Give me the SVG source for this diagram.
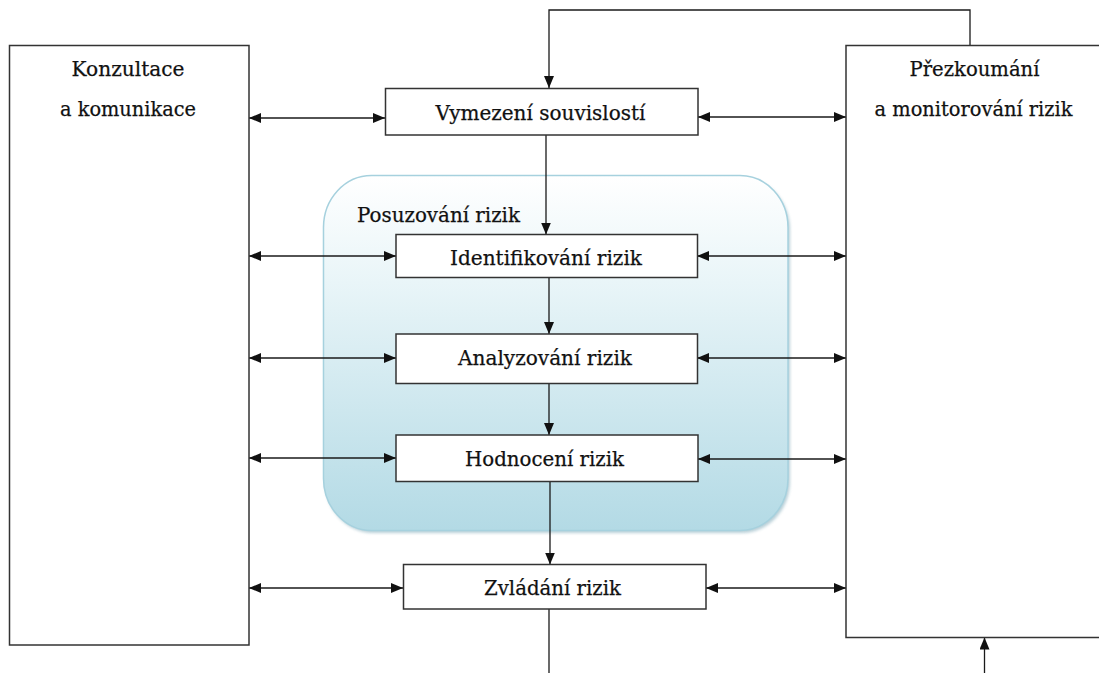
<svg xmlns="http://www.w3.org/2000/svg" width="1099" height="673" viewBox="0 0 1099 673">
  <defs>
    <linearGradient id="blueGrad" x1="0" y1="0" x2="0" y2="1">
      <stop offset="0" stop-color="#ffffff"/>
      <stop offset="0.3" stop-color="#e9f5f8"/>
      <stop offset="1" stop-color="#b3dae5"/>
    </linearGradient>
    <filter id="soft" x="-5%" y="-5%" width="110%" height="110%">
      <feGaussianBlur stdDeviation="1.5"/>
    </filter>
    <marker id="arr" viewBox="0 0 12 10" refX="12" refY="5" markerWidth="12" markerHeight="10" markerUnits="userSpaceOnUse" orient="auto-start-reverse">
      <path d="M0,0 L12,5 L0,10 Z" fill="#111"/>
    </marker>
  </defs>
  <style>
    .box { fill: #ffffff; stroke: #333333; stroke-width: 1.5; }
    .edge { fill: none; stroke: #333333; stroke-width: 1.5; }
    .lbl { font-size: 21px; fill: #111111; stroke: #111111; stroke-width: 0.25; }
    .mid { text-anchor: middle; }
    .con { fill: none; stroke: #1a1a1a; stroke-width: 1.3; }
    .dbl { marker-start: url(#arr); marker-end: url(#arr); }
    .one { marker-end: url(#arr); }
  </style>
  <rect width="1099" height="673" fill="#ffffff"/>

  <g font-family="'DejaVu Serif', 'Liberation Serif', serif">
  <g id="posuzovani-rizik">
    <rect x="325" y="178" width="465" height="355" rx="48" ry="52" fill="#7fa9b8" opacity="0.55" filter="url(#soft)"/>
    <rect x="323.5" y="175.5" width="464.5" height="355" rx="48" ry="52" fill="url(#blueGrad)" stroke="#a6d1de" stroke-width="1.5"/>
    <text class="lbl" x="357" y="222" textLength="163" lengthAdjust="spacingAndGlyphs">Posuzování rizik</text>
  </g>

  <g id="connectors">
    <path class="con one" d="M970,45 V10 H549 V88"/>
    <path class="con one" d="M546,135 V234.5"/>
    <path class="con one" d="M549,277.5 V334"/>
    <path class="con one" d="M549,383.5 V435"/>
    <path class="con one" d="M550,481.5 V564.5"/>
    <path class="con" d="M549,609 V673"/>
    <path class="con one" d="M984.5,673 V637.5"/>
    <path class="con dbl" d="M249,118 H385"/>
    <path class="con dbl" d="M249,256 H396"/>
    <path class="con dbl" d="M249,358 H396"/>
    <path class="con dbl" d="M249,458 H396"/>
    <path class="con dbl" d="M249,588 H403"/>
    <path class="con dbl" d="M698,117 H846"/>
    <path class="con dbl" d="M697,256 H846"/>
    <path class="con dbl" d="M697,358 H846"/>
    <path class="con dbl" d="M698,459 H846"/>
    <path class="con dbl" d="M706,588 H846"/>
  </g>

  <g id="konzultace">
    <rect class="box" x="9.5" y="45.5" width="239.5" height="599.5"/>
    <text class="lbl mid" x="128" y="76" textLength="113" lengthAdjust="spacingAndGlyphs">Konzultace</text>
    <text class="lbl mid" x="128" y="116" textLength="136" lengthAdjust="spacingAndGlyphs">a komunikace</text>
  </g>

  <g id="prezkoumani">
    <rect x="846" y="45.5" width="253" height="592" fill="#ffffff"/>
    <path class="edge" d="M1099,45.5 H846 V637.5 H1099"/>
    <text class="lbl mid" x="974.5" y="76" textLength="130" lengthAdjust="spacingAndGlyphs">Přezkoumání</text>
    <text class="lbl mid" x="973.5" y="116" textLength="198" lengthAdjust="spacingAndGlyphs">a monitorování rizik</text>
  </g>

  <g id="vymezeni">
    <rect class="box" x="385.5" y="88.5" width="312.5" height="46.5"/>
    <text class="lbl mid" x="540.5" y="120" textLength="210" lengthAdjust="spacingAndGlyphs">Vymezení souvislostí</text>
  </g>

  <g id="identifikovani">
    <rect class="box" x="396" y="234.5" width="301.5" height="43"/>
    <text class="lbl mid" x="546" y="265" textLength="192" lengthAdjust="spacingAndGlyphs">Identifikování rizik</text>
  </g>

  <g id="analyzovani">
    <rect class="box" x="396" y="334" width="301.5" height="49.5"/>
    <text class="lbl mid" x="545" y="365" textLength="174" lengthAdjust="spacingAndGlyphs">Analyzování rizik</text>
  </g>

  <g id="hodnoceni">
    <rect class="box" x="396" y="435" width="302" height="46.5"/>
    <text class="lbl mid" x="544.5" y="466" textLength="159" lengthAdjust="spacingAndGlyphs">Hodnocení rizik</text>
  </g>

  <g id="zvladani">
    <rect class="box" x="403.5" y="564.5" width="302.5" height="44.5"/>
    <text class="lbl mid" x="552.5" y="595" textLength="137" lengthAdjust="spacingAndGlyphs">Zvládání rizik</text>
  </g>
  </g>
</svg>
